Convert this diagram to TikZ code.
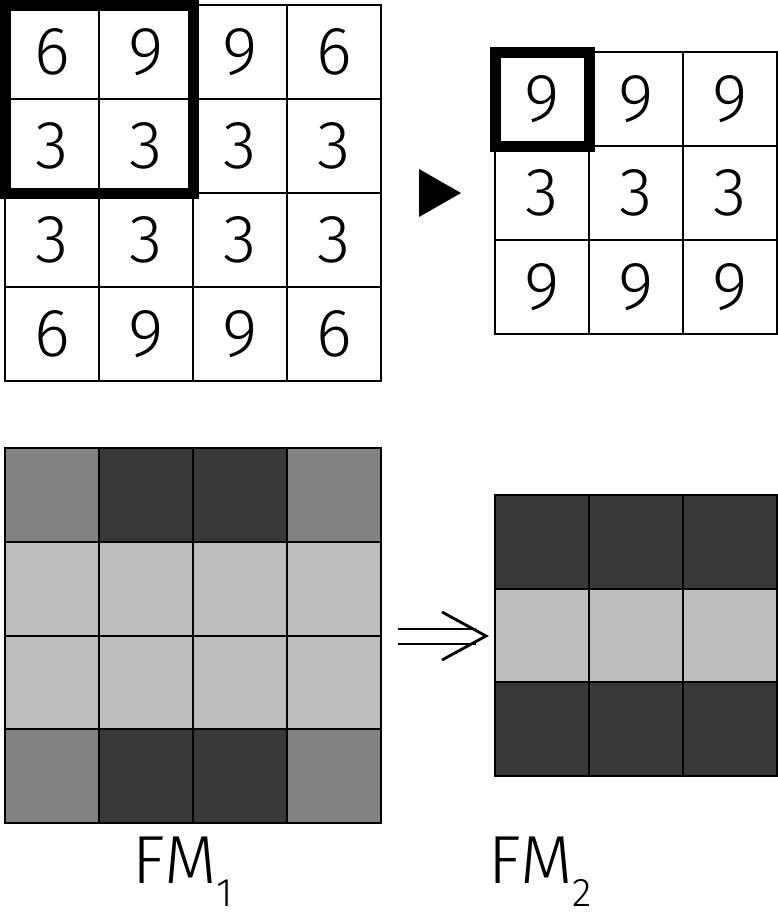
\documentclass[tikz,border=0pt]{standalone}
\usepackage{fontspec}
\newfontfamily\thinfont{Fira Sans Light}
\definecolor{cdark}{HTML}{383838}
\definecolor{cmid}{HTML}{838383}
\definecolor{clight}{HTML}{BDBDBD}
\tikzset{
  cell/.style={draw=black, line width=2.6pt, minimum width=94pt, minimum height=94pt,
    inner sep=0pt, outer sep=0pt, font=\thinfont\fontsize{68}{70}\selectfont},
  dk/.style={cell, fill=cdark},
  md/.style={cell, fill=cmid},
  lt/.style={cell, fill=clight},
  wh/.style={cell, fill=white},
  pool/.style={draw=black, line width=11pt},
  label/.style={font=\thinfont\fontsize{68}{70}\selectfont, inner sep=0pt, anchor=base west},
  arr/.style={draw=black, line width=2.8pt}
}
\begin{document}
\begin{tikzpicture}[x=1pt,y=-1pt]
\useasboundingbox (0,0) rectangle (778,916);
\fill[white] (0,0) rectangle (778,916);
% top-left 4x4 numbers
\node[wh] (a11) at (52,52) {6};
\node[wh] (a12) at (146,52) {9};
\node[wh] (a13) at (240,52) {9};
\node[wh] (a14) at (334,52) {6};
\node[wh] (a21) at (52,146) {3};
\node[wh] (a22) at (146,146) {3};
\node[wh] (a23) at (240,146) {3};
\node[wh] (a24) at (334,146) {3};
\node[wh] (a31) at (52,240) {3};
\node[wh] (a32) at (146,240) {3};
\node[wh] (a33) at (240,240) {3};
\node[wh] (a34) at (334,240) {3};
\node[wh] (a41) at (52,334) {6};
\node[wh] (a42) at (146,334) {9};
\node[wh] (a43) at (240,334) {9};
\node[wh] (a44) at (334,334) {6};
\draw[pool] (a11.north west) rectangle (a22.south east);
% top-right 3x3 numbers
\node[wh] (b11) at (542,99) {9};
\node[wh] (b12) at (636,99) {9};
\node[wh] (b13) at (730,99) {9};
\node[wh] (b21) at (542,193) {3};
\node[wh] (b22) at (636,193) {3};
\node[wh] (b23) at (730,193) {3};
\node[wh] (b31) at (542,287) {9};
\node[wh] (b32) at (636,287) {9};
\node[wh] (b33) at (730,287) {9};
\draw[pool] (b11.north west) rectangle (b11.south east);
% triangle marker
\fill[black] (419,169) -- (461,193) -- (419,217) -- cycle;
% bottom-left 4x4 grey
\node[md] (c11) at (52,495) {};
\node[dk] (c12) at (146,495) {};
\node[dk] (c13) at (240,495) {};
\node[md] (c14) at (334,495) {};
\node[lt] (c21) at (52,589) {};
\node[lt] (c22) at (146,589) {};
\node[lt] (c23) at (240,589) {};
\node[lt] (c24) at (334,589) {};
\node[lt] (c31) at (52,683) {};
\node[lt] (c32) at (146,683) {};
\node[lt] (c33) at (240,683) {};
\node[lt] (c34) at (334,683) {};
\node[md] (c41) at (52,776) {};
\node[dk] (c42) at (146,776) {};
\node[dk] (c43) at (240,776) {};
\node[md] (c44) at (334,776) {};
% bottom-right 3x3 grey
\node[dk] (d11) at (542,542) {};
\node[dk] (d12) at (636,542) {};
\node[dk] (d13) at (730,542) {};
\node[lt] (d21) at (542,636) {};
\node[lt] (d22) at (636,636) {};
\node[lt] (d23) at (730,636) {};
\node[dk] (d31) at (542,729) {};
\node[dk] (d32) at (636,729) {};
\node[dk] (d33) at (730,729) {};
% double arrow
\coordinate (p1) at (398,629);
\coordinate (p2) at (476,629);
\coordinate (q1) at (398,644);
\coordinate (q2) at (476,644);
\coordinate (t1) at (442,612);
\coordinate (tip) at (486,636);
\coordinate (t2) at (442,660);
\draw[arr] (p1) -- (p2);
\draw[arr] (q1) -- (q2);
\draw[arr, line join=miter] (t1) -- (tip) -- (t2);
% labels
\node[label] (fm1) at (132,883) {FM\raisebox{-23pt}{\fontsize{40}{40}\selectfont 1}};
\node[label] (fm2) at (488,883) {FM\raisebox{-23pt}{\fontsize{40}{40}\selectfont 2}};
\end{tikzpicture}
\end{document}
